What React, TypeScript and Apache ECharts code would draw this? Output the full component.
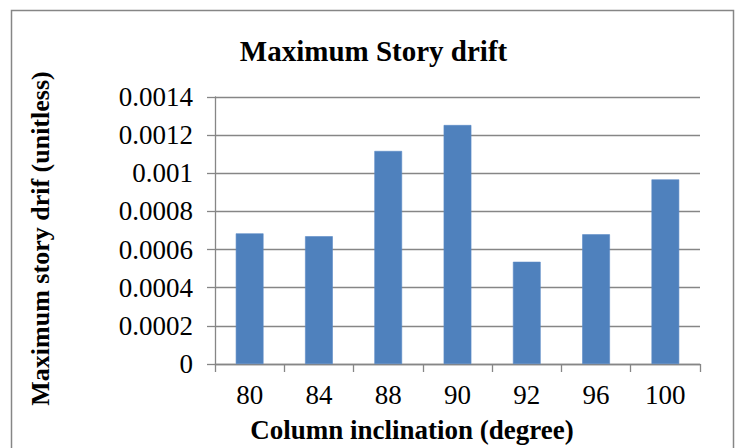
import React, { useEffect, useRef } from "react";
import * as echarts from "echarts";

const categories = ["80", "84", "88", "90", "92", "96", "100"];
const driftValues = [0.000685, 0.00067, 0.001117, 0.001253, 0.000536, 0.00068, 0.000968];
const yTickLabels = ["0", "0.0002", "0.0004", "0.0006", "0.0008", "0.001", "0.0012", "0.0014"];
const chartTitle = "Maximum Story drift";
const xAxisTitle = "Column inclination (degree)";
const yAxisTitle = "Maximum story drif (unitless)";

const SERIF = "'Liberation Serif', 'Times New Roman', serif";
const GRAY = "#868686";

export default function App() {
  const ref = useRef<HTMLDivElement>(null);
  useEffect(() => {
    if (!ref.current) return;
    const chart = echarts.init(ref.current, undefined, { renderer: "svg" });
    chart.setOption({
      animation: false,
      backgroundColor: "#ffffff",
      grid: { left: 215, right: 40, top: 97, bottom: 84, containLabel: false },
      xAxis: {
        type: "category",
        data: categories,
        boundaryGap: true,
        axisLine: { show: true, lineStyle: { color: GRAY, width: 1.3 } },
        axisTick: { show: true, length: 8, alignWithLabel: false, lineStyle: { color: GRAY, width: 1.3 } },
        axisLabel: { color: "#000", fontFamily: SERIF, fontSize: 27, margin: 17 },
        splitLine: { show: false },
      },
      yAxis: {
        type: "value",
        min: 0,
        max: 0.0014,
        interval: 0.0002,
        axisLine: { show: true, lineStyle: { color: GRAY, width: 1.3 } },
        axisTick: { show: true, length: 8, lineStyle: { color: GRAY, width: 1.3 } },
        axisLabel: {
          color: "#000",
          fontFamily: SERIF,
          fontSize: 27,
          margin: 22,
          formatter: (v: number) => yTickLabels[Math.round(v / 0.0002)] ?? String(v),
        },
        splitLine: { show: true, lineStyle: { color: GRAY, width: 1.3 } },
      },
      series: [
        {
          type: "bar",
          data: driftValues,
          barWidth: "40%",
          itemStyle: { color: "#4F81BD", borderColor: "#5A8AC6", borderWidth: 0.6 },
        },
      ],
      graphic: [
        {
          type: "rect",
          shape: { x: 11.5, y: 10.5, width: 722, height: 450 },
          style: { fill: "none", stroke: GRAY, lineWidth: 1.5 },
          silent: true,
        },
        {
          type: "text",
          x: 373.5,
          y: 51,
          style: {
            text: chartTitle,
            fill: "#000",
            font: `bold 29px ${SERIF}`,
            align: "center",
            verticalAlign: "middle",
          },
        },
        {
          type: "text",
          x: 412,
          y: 430,
          style: {
            text: xAxisTitle,
            fill: "#000",
            font: `bold 27px ${SERIF}`,
            align: "center",
            verticalAlign: "middle",
          },
        },
        {
          type: "text",
          x: 40,
          y: 238.5,
          rotation: Math.PI / 2,
          style: {
            text: yAxisTitle,
            fill: "#000",
            font: `bold 26px ${SERIF}`,
            align: "center",
            verticalAlign: "middle",
          },
        },
      ],
    });
    return () => chart.dispose();
  }, []);
  return (
    <div
      ref={ref}
      style={{ position: "fixed", left: 0, top: 0, width: 740, height: 448, background: "#fff" }}
    />
  );
}
